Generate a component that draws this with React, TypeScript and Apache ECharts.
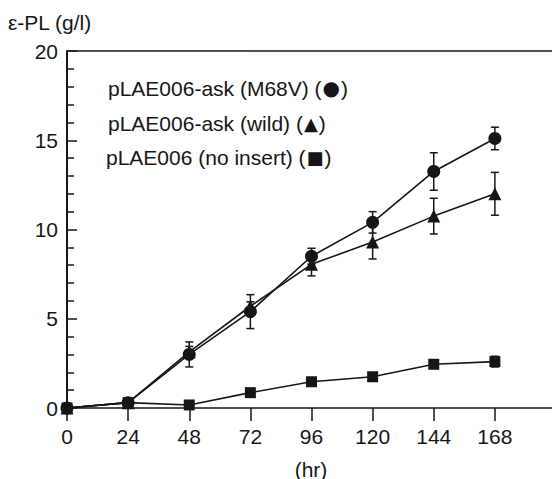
import React, { useEffect, useRef } from "react";
import * as echarts from "echarts";

const hours = [0, 24, 48, 72, 96, 120, 144, 168];
const xTickLabels = ["0", "24", "48", "72", "96", "120", "144", "168"];
const m68vMean = [0, 0.3, 3.0, 5.4, 8.5, 10.4, 13.25, 15.1];
const m68vErr = [0, 0, 0.7, 0.95, 0.45, 0.6, 1.05, 0.63];
const wildMean = [0, 0.3, 3.15, 5.7, 8.05, 9.3, 10.75, 12.0];
const wildErr = [0, 0, 0.3, 0.25, 0.65, 0.95, 1.0, 1.2];
const noInsertMean = [0, 0.3, 0.17, 0.86, 1.47, 1.75, 2.45, 2.6];
const noInsertErr = [0, 0, 0, 0, 0.1, 0.1, 0.15, 0.3];
const legendTexts = ["pLAE006-ask (M68V) (", "pLAE006-ask (wild) (", "pLAE006 (no insert) ("];
const legendSymbols = ["●", "▲", "■"];
const yAxisTitle = "ε-PL (g/l)";
const xAxisTitle = "(hr)";

const INK = "#161616";
const FONT = "'Liberation Sans', Arial, Helvetica, 'DejaVu Sans', sans-serif";
const FS = 21;

function errData(mean: number[], err: number[]) {
  return hours
    .map((h, i) => [h, mean[i] - err[i], mean[i] + err[i], err[i]])
    .filter((d) => d[3] > 0);
}

function errSeries(mean: number[], err: number[]) {
  return {
    type: "custom",
    xAxisIndex: 0,
    yAxisIndex: 0,
    z: 1,
    data: errData(mean, err),
    renderItem: (_params: any, api: any) => {
      const x = api.value(0);
      const lo = api.value(1);
      const hi = api.value(2);
      const top = api.coord([x, hi]);
      const bot = api.coord([x, lo]);
      const hw = 4;
      const st = { stroke: INK, lineWidth: 1.5 };
      return {
        type: "group",
        children: [
          { type: "line", shape: { x1: top[0], y1: top[1], x2: bot[0], y2: bot[1] }, style: st },
          { type: "line", shape: { x1: top[0] - hw, y1: top[1], x2: top[0] + hw, y2: top[1] }, style: st },
          { type: "line", shape: { x1: bot[0] - hw, y1: bot[1], x2: bot[0] + hw, y2: bot[1] }, style: st },
        ],
      };
    },
  };
}

function lineSeries(name: string, mean: number[], symbol: string, size: number) {
  return {
    name,
    type: "line",
    xAxisIndex: 0,
    yAxisIndex: 0,
    z: 3,
    data: hours.map((h, i) => [h, mean[i]]),
    symbol,
    symbolSize: size,
    showSymbol: true,
    itemStyle: { color: INK, borderWidth: 0 },
    lineStyle: { color: INK, width: 1.6 },
  };
}

export default function App() {
  const ref = useRef<HTMLDivElement>(null);
  useEffect(() => {
    if (!ref.current) return;
    const chart = echarts.init(ref.current, undefined, { renderer: "svg" });
    chart.setOption({
      animation: false,
      backgroundColor: "#ffffff",
      textStyle: { fontFamily: FONT },
      grid: { left: 67, top: 51, right: 4, bottom: 71 },
      xAxis: [
        {
          type: "value",
          min: 0,
          max: 192,
          interval: 24,
          axisLine: { show: true, lineStyle: { color: INK, width: 1.5 } },
          axisTick: { show: true, inside: false, length: 13, lineStyle: { color: INK, width: 1.5 } },
          axisLabel: {
            color: INK,
            fontSize: FS,
            fontFamily: FONT,
            margin: 18,
            formatter: (v: number) => {
              const idx = hours.indexOf(v);
              return idx >= 0 ? xTickLabels[idx] : "";
            },
          },
          splitLine: { show: false },
        },
        {
          type: "value",
          position: "top",
          min: 0,
          max: 192,
          axisLine: { show: true, onZero: false, lineStyle: { color: INK, width: 1.5 } },
          axisTick: { show: false },
          axisLabel: { show: false },
          splitLine: { show: false },
        },
      ],
      yAxis: {
        type: "value",
        min: 0,
        max: 20,
        interval: 5,
        axisLine: { show: true, lineStyle: { color: INK, width: 2 } },
        axisTick: { show: true, inside: true, length: 10, lineStyle: { color: INK, width: 1.5 } },
        minorTick: { show: true, splitNumber: 5, length: 7, lineStyle: { color: INK, width: 1.5 } },
        axisLabel: { color: INK, fontSize: FS, fontFamily: FONT, margin: 9 },
        splitLine: { show: false },
        minorSplitLine: { show: false },
      },
      graphic: [
        {
          type: "text",
          x: 8,
          y: 22,
          style: { text: yAxisTitle, fill: INK, font: `${FS}px ${FONT}`, verticalAlign: "middle" },
        },
        {
          type: "text",
          x: 311,
          y: 469,
          style: { text: xAxisTitle, fill: INK, font: `${FS}px ${FONT}`, align: "center", verticalAlign: "middle" },
        },
        ...legendTexts.map((t, i) => ({
          type: "text",
          x: i === 2 ? 106 : 108,
          y: [88, 123, 157][i],
          style: {
            text: `${t}{s|${legendSymbols[i]}})`,
            fill: INK,
            font: `${FS}px ${FONT}`,
            verticalAlign: "middle",
            rich: {
              s: {
                fontSize: i === 0 ? 20 : 18,
                fontFamily: "'DejaVu Sans', sans-serif",
                fill: INK,
                padding: [0, 1, 0, 1],
              },
            },
          },
        })),
      ],
      series: [
        errSeries(m68vMean, m68vErr),
        errSeries(wildMean, wildErr),
        errSeries(noInsertMean, noInsertErr),
        lineSeries("M68V", m68vMean, "circle", 13),
        lineSeries("wild", wildMean, "triangle", 13),
        lineSeries("no insert", noInsertMean, "rect", 11),
      ],
    });
    return () => chart.dispose();
  }, []);
  return (
    <div style={{ position: "fixed", left: 0, top: 0, width: 552, height: 479, overflow: "hidden", background: "#fff" }}>
      <div ref={ref} style={{ width: 560, height: 479 }} />
    </div>
  );
}
